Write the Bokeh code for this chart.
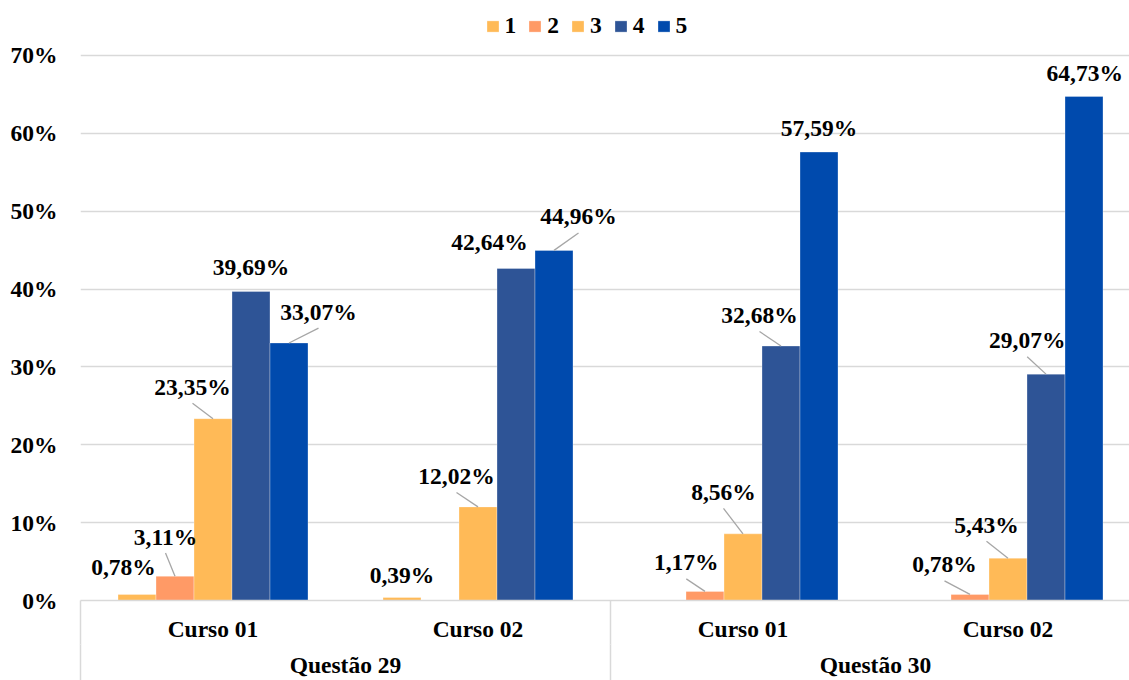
import math
from bokeh.plotting import figure
from bokeh.models import (Range1d, FixedTicker, LinearAxis, PrintfTickFormatter,
                          Legend, LegendItem, ColumnDataSource)
from bokeh.core.properties import value
from bokeh.embed import file_html
from bokeh.resources import INLINE

nan = float("nan")

# ---------------- data ----------------
courses = ["Curso 01", "Curso 02", "Curso 01", "Curso 02"]
questions = ["Questão 29", "Questão 30"]
series_names = ["1", "2", "3", "4", "5"]
serie_1 = [0.78, 0.39, nan, nan]
serie_2 = [3.11, nan, 1.17, 0.78]
serie_3 = [23.35, 12.02, 8.56, 5.43]
serie_4 = [39.69, 42.64, 32.68, 29.07]
serie_5 = [33.07, 44.96, 57.59, 64.73]
y_ticks = [0, 10, 20, 30, 40, 50, 60, 70]

series = [serie_1, serie_2, serie_3, serie_4, serie_5]

# ---------------- style ----------------
colors = ["#FFBA57", "#FF9A66", "#FFBA57", "#2E5496", "#004AAD"]
FONT = "Liberation Serif"
FS = "23.5px"
GRID = "#d9d9d9"

W, H = 1129, 680
LEFT, BOTTOM = 80, 79
FRAME_W, FRAME_H = W - LEFT, H - BOTTOM
PX_X = 265.0          # pixels per category
PX_Y = 7.8            # pixels per percent
BAR_W = 38.0 / PX_X   # bar width in category units

# label placement (screen px offsets from bar-top centre) and leader flags
label_dx = [
    [-13.5, 0, 0, 0],
    [-9.5, 0, -18.7, -25.5],
    [-20.5, -21.5, -19.5, -21.5],
    [0, -26.5, -21.5, -18.8],
    [29.5, 24.5, 0, 0.8],
]
label_dy = [
    [-27, -23, 0, 0],
    [-39.7, 0, -29, -30],
    [-32, -31, -42, -33.6],
    [-24.7, -26.7, -31, -34],
    [-31.4, -34, -24, -23.4],
]
leader = [
    [False, False, False, False],
    [True, False, True, True],
    [True, True, True, True],
    [False, False, True, True],
    [True, True, False, False],
]

p = figure(width=W, height=H, output_backend="svg", toolbar_location=None,
           x_range=Range1d(0, FRAME_W / PX_X), y_range=Range1d(0, FRAME_H / PX_Y),
           min_border_left=LEFT, min_border_right=0, min_border_top=0,
           min_border_bottom=0, x_axis_type=None)
p.outline_line_color = None
p.background_fill_color = "white"
p.border_fill_color = "white"
p.xgrid.visible = False

# y axis
p.yaxis.ticker = FixedTicker(ticks=y_ticks)
p.yaxis.formatter = PrintfTickFormatter(format="%d%%")
p.yaxis.axis_line_color = None
p.yaxis.major_tick_line_color = None
p.yaxis.minor_tick_line_color = None
p.yaxis.major_tick_out = 0
p.yaxis.major_tick_in = 0
p.yaxis.minor_tick_out = 0
p.yaxis.minor_tick_in = 0
p.yaxis.major_label_standoff = 23
p.yaxis.major_label_text_font = FONT
p.yaxis.major_label_text_font_style = "bold"
p.yaxis.major_label_text_font_size = FS
p.yaxis.major_label_text_color = "black"
p.ygrid.ticker = FixedTicker(ticks=y_ticks)
p.ygrid.grid_line_color = GRID
p.ygrid.grid_line_width = 1.5

# bars
renderers = []
lab_x, lab_y, lab_t = [], [], []
seg_x0, seg_y0, seg_x1, seg_y1 = [], [], [], []
for s, vals in enumerate(series):
    xs = [k + 0.5 + (s - 2) * BAR_W for k in range(len(vals))]
    src = ColumnDataSource(dict(x=xs, top=vals))
    r = p.vbar(x="x", top="top", bottom=0, width=BAR_W, source=src,
               fill_color=colors[s], line_color="white", line_width=0.6, line_alpha=0.5)
    renderers.append(r)
    for k, v in enumerate(vals):
        if v is None or (isinstance(v, float) and math.isnan(v)):
            continue
        lx = xs[k] + label_dx[s][k] / PX_X
        ly = v - label_dy[s][k] / PX_Y
        lab_x.append(lx)
        lab_y.append(ly)
        lab_t.append(f"{v:.2f}".replace(".", ",") + "%")
        if leader[s][k]:
            seg_x0.append(lx)
            seg_y0.append(ly - 16.5 / PX_Y)
            seg_x1.append(xs[k])
            seg_y1.append(v)

p.segment(x0=seg_x0, y0=seg_y0, x1=seg_x1, y1=seg_y1, line_color="#a6a6a6", line_width=1.3)
p.text(x=lab_x, y=lab_y, text=lab_t, text_align="center", text_baseline="middle",
       text_font=value(FONT), text_font_style="bold",
       text_font_size=FS, text_color="black")

# x axes (two levels)
course_ticks = [k + 0.5 for k in range(len(courses))]
question_ticks = [2 * q + 1 for q in range(len(questions))]
sep = [0, 2, 4]

T1, T2 = 44, 40
ax1 = LinearAxis(ticker=FixedTicker(ticks=course_ticks, minor_ticks=sep),
                 major_label_overrides={t: c for t, c in zip(course_ticks, courses)})
ax1.axis_line_color = GRID
ax1.axis_line_width = 1.5
ax1.major_tick_line_color = None
ax1.major_tick_out = 0
ax1.major_tick_in = 0
ax1.minor_tick_in = 0
ax1.minor_tick_out = T1
ax1.minor_tick_line_color = GRID
ax1.minor_tick_line_width = 1.5
ax1.major_label_standoff = 15 - T1
ax1.major_label_text_font = FONT
ax1.major_label_text_font_style = "bold"
ax1.major_label_text_font_size = FS
ax1.major_label_text_color = "black"
p.add_layout(ax1, "below")

ax2 = LinearAxis(ticker=FixedTicker(ticks=question_ticks, minor_ticks=sep),
                 major_label_overrides={t: q for t, q in zip(question_ticks, questions)})
ax2.axis_line_color = None
ax2.major_tick_line_color = None
ax2.major_tick_out = 0
ax2.major_tick_in = 0
ax2.minor_tick_in = 0
ax2.minor_tick_out = T2
ax2.minor_tick_line_color = GRID
ax2.minor_tick_line_width = 1.5
ax2.major_label_standoff = 7 - T2
ax2.major_label_text_font = FONT
ax2.major_label_text_font_style = "bold"
ax2.major_label_text_font_size = FS
ax2.major_label_text_color = "black"
p.add_layout(ax2, "below")

legend = Legend(items=[LegendItem(label=n, renderers=[r]) for n, r in zip(series_names, renderers)],
                orientation="horizontal", location=(404.5, 561),
                padding=0, margin=0, spacing=11, glyph_width=15, glyph_height=14,
                label_standoff=5, label_width=0,
                label_text_font=FONT, label_text_font_style="bold",
                label_text_font_size=FS, label_text_color="black",
                border_line_color=None, background_fill_alpha=0)
p.add_layout(legend, "center")

open("out.html", "w").write(file_html(p, INLINE))
